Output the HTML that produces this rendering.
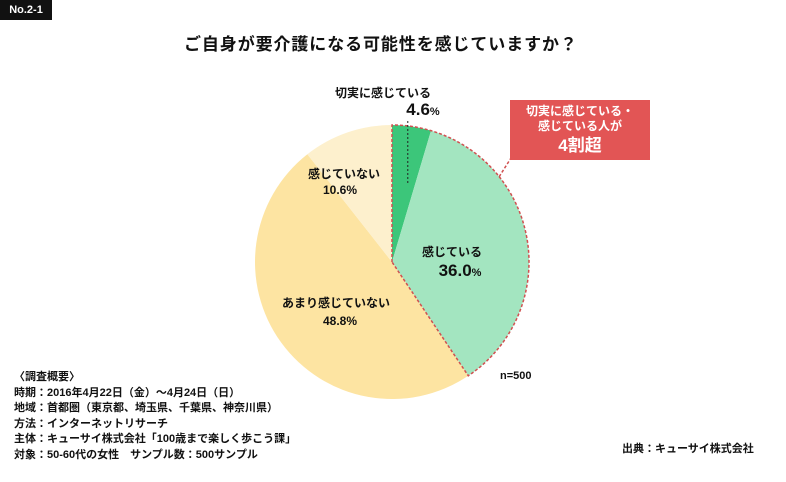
<!DOCTYPE html>
<html><head><meta charset="utf-8"><style>
body{margin:0;background:#fff;font-family:"Liberation Sans","Noto Sans CJK JP",sans-serif}
#wrap{position:relative;width:786px;height:482px;overflow:hidden}
.t{position:absolute;white-space:nowrap;color:#111}
</style></head><body>
<div id="wrap">
<div class="t" style="left:0;top:0;width:52px;height:20px;background:#111;color:#fff;font-size:11px;font-weight:bold;line-height:20px;text-align:center">No.2-1</div>
<div class="t" style="left:184px;top:30px;font-size:17px;font-weight:bold;letter-spacing:0.9px">ご自身が要介護になる可能性を感じていますか？</div>
<svg id="pie" width="786" height="482" style="position:absolute;left:0;top:0"></svg>
<div class="t" style="left:510px;top:100px;width:140px;height:60px;background:#e25555;color:#fff;text-align:center;font-size:12px;font-weight:bold;line-height:15px;padding-top:4px;box-sizing:border-box">切実に感じている・<br>感じている人が<br><span style="font-size:17px;line-height:24px">4割超</span></div>
<div class="t" style="left:500px;top:370px;font-size:11px;font-weight:bold">n=500</div>
<div class="t" style="left:14px;top:370px;font-size:11px;line-height:15.5px;font-weight:bold">〈調査概要〉<br>時期：2016年4月22日（金）～4月24日（日）<br>地域：首都圏（東京都、埼玉県、千葉県、神奈川県）<br>方法：インターネットリサーチ<br>主体：キューサイ株式会社「100歳まで楽しく歩こう課」<br>対象：50-60代の女性　サンプル数：500サンプル</div>
<div class="t" style="left:622px;top:440px;font-size:11px;font-weight:bold">出典：キューサイ株式会社</div>
</div>
<script>
const categories=["切実に感じている","感じている","あまり感じていない","感じていない"];
const values=[4.6,36.0,48.8,10.6];
const colors=["#3cc67a","#a3e5c0","#fde4a2","#fdf0cd"];
const cx=392,cy=262,r=137;
const svg=document.getElementById('pie');const NS="http://www.w3.org/2000/svg";
const total=values.reduce((a,b)=>a+b,0);
function pt(f,rr){const a=f*2*Math.PI-Math.PI/2;return [cx+rr*Math.cos(a),cy+rr*Math.sin(a)];}
let acc=0;const mids=[];
values.forEach((v,i)=>{const f0=acc/total,f1=(acc+v)/total;acc+=v;
const p0=pt(f0,r),p1=pt(f1,r);const large=(f1-f0)>0.5?1:0;
const p=document.createElementNS(NS,'path');
p.setAttribute('d',`M${cx},${cy}L${p0[0]},${p0[1]}A${r},${r} 0 ${large} 1 ${p1[0]},${p1[1]}Z`);
p.setAttribute('fill',colors[i]);


svg.appendChild(p);mids.push((f0+f1)/2);});
const fEnd=(values[0]+values[1])/total;const pe=pt(fEnd,r);
const o=document.createElementNS(NS,'path');
o.setAttribute('d',`M${cx},${cy}L${cx},${cy-r}A${r},${r} 0 ${fEnd>0.5?1:0} 1 ${pe[0]},${pe[1]}Z`);
o.setAttribute('fill','none');o.setAttribute('stroke','#d05050');o.setAttribute('stroke-width','1.5');o.setAttribute('stroke-dasharray','3,2');


svg.appendChild(o);
const cp=pt(0.143,r);
const l=document.createElementNS(NS,'line');
l.setAttribute('x1',cp[0]);l.setAttribute('y1',cp[1]);
l.setAttribute('x2',511);l.setAttribute('y2',158);
l.setAttribute('stroke','#d05050');l.setAttribute('stroke-width','1.5');l.setAttribute('stroke-dasharray','3,2');


svg.appendChild(l);
const a0=pt(mids[0],r*0.8);
const ld=document.createElementNS(NS,'line');
ld.setAttribute('x1',a0[0]);ld.setAttribute('y1',121);ld.setAttribute('x2',a0[0]);ld.setAttribute('y2',a0[1]+30);
ld.setAttribute('stroke','#222');ld.setAttribute('stroke-dasharray','2,2');


svg.appendChild(ld);
function txt(x,y,s,size,name){const t=document.createElementNS(NS,'text');t.setAttribute('x',x);t.setAttribute('y',y);t.setAttribute('text-anchor','middle');t.setAttribute('font-size',size);t.setAttribute('font-weight','bold');t.setAttribute('fill','#111');t.setAttribute('font-family','"Liberation Sans","Noto Sans CJK JP",sans-serif');t.innerHTML=s;


svg.appendChild(t);}
txt(383,97,categories[0],12,'label-1');
txt(423,115,values[0].toFixed(1)+'<tspan font-size="11">%</tspan>',17,'value-1');
txt(452,256,categories[1],12,'label-2');
txt(460,276,values[1].toFixed(1)+'<tspan font-size="11">%</tspan>',17,'value-2');
txt(336,307,categories[2],12,'label-3');
txt(340,325,values[2].toFixed(1)+'%',12,'value-3');
txt(344,178,categories[3],12,'label-4');
txt(340,194,values[3].toFixed(1)+'%',12,'value-4');
</script>
</body></html>
